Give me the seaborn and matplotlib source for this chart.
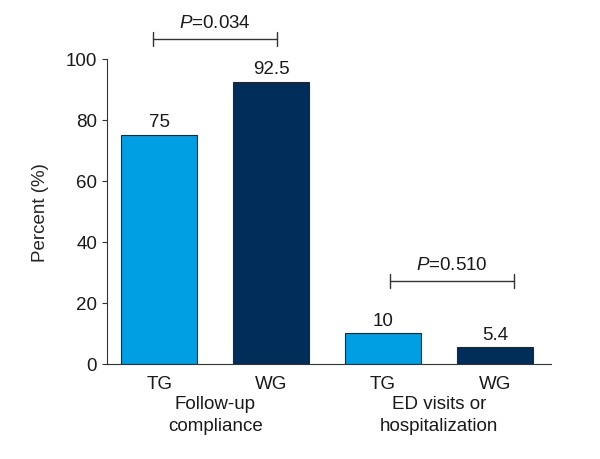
import pandas as pd
import matplotlib
matplotlib.use("Agg")
import matplotlib.pyplot as plt
import seaborn as sns

# ---------- Data ----------
bar_keys = ["FU_TG", "FU_WG", "ED_TG", "ED_WG"]
groups = ["TG", "WG", "TG", "WG"]
values = [75, 92.5, 10, 5.4]
value_labels = ["75", "92.5", "10", "5.4"]
outcomes = ["Follow-up\ncompliance", "ED visits or\nhospitalization"]
p_values = ["0.034", "0.510"]

df = pd.DataFrame({"key": bar_keys, "group": groups, "value": values})

sns.set_style("ticks")
plt.rcParams["font.family"] = ["Liberation Sans", "DejaVu Sans"]
plt.rcParams["mathtext.fontset"] = "custom"
plt.rcParams["mathtext.it"] = "Liberation Sans:italic"
plt.rcParams["mathtext.rm"] = "Liberation Sans"
plt.rcParams["text.color"] = "#1a1a1a"

FS = 13.5

fig = plt.figure(figsize=(6, 4.6), dpi=100)
ax = fig.add_axes([0.178, 0.207, 0.74, 0.663])

sns.barplot(
    data=df, x="key", y="value", hue="group",
    palette={"TG": "#009fe3", "WG": "#002d5a"},
    width=0.68, dodge=False, legend=False, saturation=1,
    edgecolor="#1a2a3a", linewidth=0.8, ax=ax
)

ax.set_ylim(0, 100)
ax.set_xlim(-0.47, 3.5)
ax.set_yticks([0, 20, 40, 60, 80, 100])
ax.set_xticks(range(4))
ax.set_xticklabels(groups)
ax.tick_params(axis="both", labelsize=FS, color="#333333", labelcolor="#1a1a1a")
ax.tick_params(axis="x", length=0, pad=8)
ax.set_xlabel("")
ax.set_ylabel("Percent (%)", fontsize=FS, labelpad=12)
for s in ["top", "right"]:
    ax.spines[s].set_visible(False)
ax.spines["left"].set_color("#333333")
ax.spines["bottom"].set_color("#333333")

# value labels
for i, (v, t) in enumerate(zip(values, value_labels)):
    ax.text(i, v + 1.5, t, ha="center", va="bottom", fontsize=FS)

# outcome labels
for j, name in enumerate(outcomes):
    ax.text(2 * j + 0.5, -10.3, name, ha="center", va="top", fontsize=FS,
            clip_on=False, linespacing=1.35)

# p-value brackets
brackets = [(-0.06, 1.05, 106.6), (2.06, 3.17, 27.2)]
for (x0, x1, y), p in zip(brackets, p_values):
    ax.plot([x0, x1], [y, y], color="#333333", lw=1, clip_on=False)
    for xx in (x0, x1):
        ax.plot([xx, xx], [y - 2.3, y + 2.3], color="#333333", lw=1, clip_on=False)
    ax.text((x0 + x1) / 2, y + 2.5, "$P$=" + p, ha="center", va="bottom",
            fontsize=FS, clip_on=False)

fig.savefig("out.png", dpi=100)
